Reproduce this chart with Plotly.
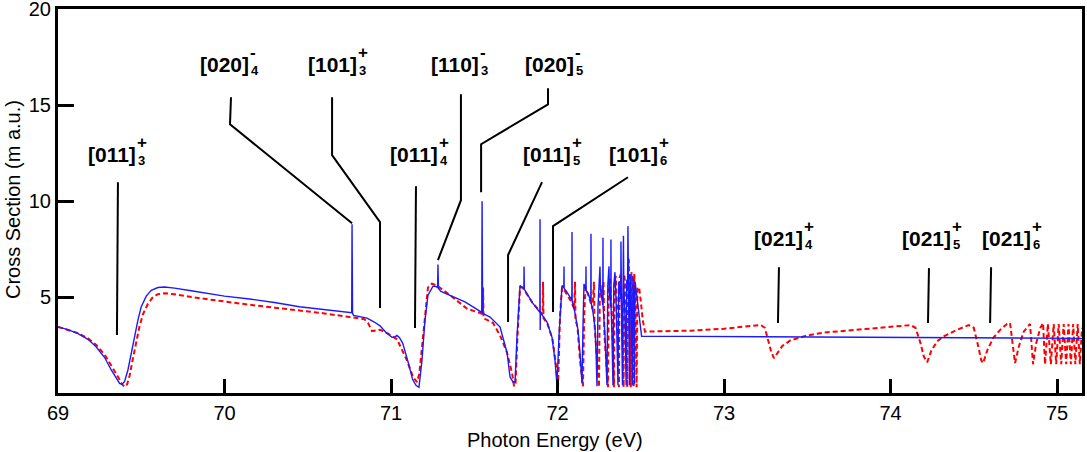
import plotly.graph_objects as go

# ---- data ----
blue_x = [69.00, 69.06, 69.12, 69.18, 69.23, 69.28, 69.32, 69.35, 69.37, 69.385, 69.40, 69.42, 69.44, 69.46,
          69.48, 69.50, 69.53, 69.56, 69.60, 69.64, 69.70, 69.80, 69.90, 70.00, 70.15, 70.30, 70.45, 70.60,
          70.70, 70.764, 70.766, 70.769, 70.775, 70.82, 70.856, 70.90, 70.934, 70.97, 71.006, 71.02, 71.036,
          71.05, 71.07, 71.10, 71.13, 71.15, 71.168, 71.186, 71.204, 71.222, 71.252, 71.270, 71.280, 71.282,
          71.285, 71.30, 71.354, 71.444, 71.50, 71.545, 71.547, 71.550, 71.595, 71.655, 71.697, 71.715,
          71.733, 71.745, 71.757, 71.775, 71.790, 71.798, 71.799, 71.801, 71.85, 71.894, 71.895, 71.896,
          71.897, 71.937, 71.967, 71.985, 71.997, 72.009, 72.027, 72.038, 72.039, 72.040, 72.057, 72.086,
          72.087, 72.088, 72.105, 72.123, 72.135, 72.147, 72.153, 72.159, 72.170, 72.171, 72.172, 72.183,
          72.200, 72.201, 72.202, 72.213, 72.225, 72.232, 72.237, 72.243, 72.250, 72.255, 72.258, 72.272,
          72.273, 72.274, 72.285, 72.297, 72.302, 72.309, 72.312, 72.320, 72.321, 72.322, 72.327, 72.333,
          72.338, 72.345, 72.352, 72.358, 72.363, 72.368, 72.375, 72.380, 72.381, 72.382, 72.386, 72.390,
          72.394, 72.396, 72.398, 72.405, 72.412, 72.416, 72.421, 72.423, 72.425, 72.432, 72.436, 72.442,
          72.449, 72.453, 72.458, 72.462, 72.466, 72.470, 72.480, 72.490, 72.497, 72.505, 72.80, 73.20,
          73.60, 74.00, 74.50, 75.15]
blue_y = [3.45, 3.3, 3.1, 2.8, 2.4, 1.85, 1.2, 0.75, 0.5, 0.45, 0.6, 1.2, 2.1, 3.0,
          3.8, 4.5, 5.05, 5.35, 5.5, 5.53, 5.47, 5.33, 5.18, 5.05, 4.9, 4.72, 4.5, 4.35,
          4.25, 4.18, 8.8, 4.15, 4.05, 3.98, 3.9, 3.7, 3.5, 3.15, 2.9, 2.9, 3.0,
          2.9, 2.6, 1.7, 0.7, 0.4, 0.3, 1.7, 3.8, 5.1, 5.57, 5.55, 5.5, 6.7,
          5.45, 5.3, 5.1, 4.75, 4.45, 4.2, 10.0, 4.15, 3.96, 3.44, 2.1, 0.83,
          0.57, 0.6, 3.0, 5.6, 5.5, 5.45, 6.6, 5.4, 4.7, 4.2, 9.06, 3.28,
          4.2, 3.7, 2.9, 1.7, 0.4, 3.0, 5.6, 5.5, 6.6, 5.45, 5.26, 4.84,
          8.4, 4.8, 4.17, 3.28, 2.1, 0.5, 3.5, 5.68, 5.4, 6.6, 5.35, 5.2,
          4.8, 8.3, 4.7, 4.2, 3.4, 2.0, 0.35, 4.5, 5.7, 6.6, 5.4, 4.6,
          8.1, 4.5, 3.0, 0.4, 5.6, 6.6, 5.2, 4.5, 8.0, 4.4, 3.0, 0.4,
          5.6, 6.3, 4.8, 3.0, 0.4, 5.8, 5.4, 4.9, 7.9, 4.7, 3.0, 0.4,
          5.8, 8.2, 5.6, 4.0, 0.4, 5.9, 5.6, 8.7, 5.3, 0.4, 6.2, 5.2,
          0.4, 6.1, 5.0, 0.45, 5.8, 5.5, 5.0, 4.2, 3.5, 2.95, 2.95, 2.93,
          2.92, 2.9, 2.88, 2.85]

red_x = [69.00, 69.06, 69.12, 69.18, 69.23, 69.28, 69.33, 69.36, 69.385, 69.40, 69.415, 69.43, 69.45, 69.47,
         69.49, 69.51, 69.54, 69.57, 69.60, 69.64, 69.70, 69.80, 69.90, 70.00, 70.15, 70.30, 70.45, 70.60,
         70.75, 70.80, 70.84, 70.862, 70.886, 70.934, 70.982, 71.036, 71.096, 71.132, 71.156, 71.17, 71.186,
         71.204, 71.222, 71.246, 71.276, 71.354, 71.456, 71.535, 71.552, 71.553, 71.556, 71.613, 71.655,
         71.697, 71.727, 71.739, 71.748, 71.76, 71.775, 71.79, 71.85, 71.90, 71.911, 71.913, 71.916, 71.94,
         71.97, 71.99, 72.003, 72.015, 72.027, 72.045, 72.08, 72.100, 72.105, 72.108, 72.120, 72.135,
         72.153, 72.160, 72.168, 72.185, 72.210, 72.219, 72.222, 72.235, 72.249, 72.254, 72.26, 72.27,
         72.276, 72.282, 72.303, 72.308, 72.315, 72.327, 72.339, 72.343, 72.350, 72.360, 72.369, 72.373,
         72.380, 72.390, 72.397, 72.401, 72.408, 72.414, 72.419, 72.423, 72.428, 72.434, 72.440, 72.444,
         72.450, 72.457, 72.461, 72.467, 72.475, 72.48, 72.49, 72.50, 72.512, 72.525, 72.80, 73.00, 73.15,
         73.22, 73.245, 73.265, 73.285, 73.30, 73.32, 73.35, 73.40, 73.50, 73.60, 73.80, 74.00, 74.12,
         74.15, 74.18, 74.20, 74.22, 74.245, 74.28, 74.32, 74.40, 74.47, 74.50, 74.525, 74.545, 74.556,
         74.58, 74.616, 74.66, 74.70, 74.718, 74.73, 74.748, 74.77, 74.80, 74.838, 74.846, 74.856, 74.875,
         74.90, 74.916, 74.922, 74.928, 74.945, 74.963, 74.98, 74.995, 75.01, 75.025, 75.04, 75.055,
         75.069, 75.083, 75.097, 75.11, 75.124, 75.137, 75.15]
red_y = [3.45, 3.3, 3.12, 2.85, 2.5, 2.0, 1.3, 0.85, 0.45, 0.32, 0.45, 0.9, 1.8, 2.7,
         3.5, 4.1, 4.65, 5.0, 5.15, 5.2, 5.15, 5.0, 4.88, 4.75, 4.6, 4.45, 4.3, 4.15,
         3.96, 3.92, 3.85, 3.65, 3.23, 3.3, 3.1, 2.8, 1.7, 0.83, 0.57, 1.0, 2.4,
         4.2, 5.5, 5.7, 5.6, 5.1, 4.4, 4.17, 4.1, 5.5, 3.9, 3.65, 3.0,
         2.1, 1.04, 0.35, 0.5, 3.0, 5.5, 5.5, 4.7, 4.2, 4.1, 5.8, 3.9, 3.6,
         2.8, 1.5, 0.3, 4.0, 5.5, 5.3, 4.8, 4.4, 5.8, 3.8, 3.44, 1.7,
         0.35, 4.0, 5.5, 5.1, 4.4, 5.8, 3.6, 2.0, 0.3, 5.0, 5.6, 5.2,
         5.8, 3.0, 0.3, 5.6, 6.0, 4.0, 0.3, 5.8, 6.1, 4.0, 0.3, 6.0,
         6.2, 3.5, 0.3, 6.2, 5.5, 3.0, 0.3, 6.4, 7.0, 3.5, 0.3, 6.3,
         5.5, 0.3, 6.2, 5.0, 0.3, 5.5, 5.5, 4.8, 3.8, 3.2, 3.25, 3.35, 3.5,
         3.55, 3.4, 2.8, 2.1, 1.82, 2.1, 2.45, 2.75, 3.0, 3.15, 3.3, 3.45, 3.54,
         3.4, 2.6, 1.9, 1.6, 2.2, 2.7, 2.95, 3.3, 3.54, 3.4, 2.5, 1.7, 1.56,
         2.2, 2.86, 3.3, 3.6, 3.65, 2.8, 1.56, 2.4, 3.2, 3.6, 2.6, 1.5, 2.6,
         3.4, 3.65, 2.6, 1.5, 3.6, 1.5, 3.6, 1.5, 3.6, 1.5, 3.6, 1.5,
         3.6, 1.5, 3.6, 1.5, 3.6, 1.5, 3.4]

# resonance labels: main text, superscript, subscript, anchor (right edge of bracket)
label_main = ["[011]", "[020]", "[101]", "[011]", "[110]", "[020]", "[011]", "[101]", "[021]", "[021]", "[021]"]
label_sup = ["+", "-", "+", "+", "-", "-", "+", "+", "+", "+", "+"]
label_sub = ["3", "4", "3", "4", "3", "5", "5", "6", "4", "5", "6"]
label_x = [69.462, 70.141, 70.790, 71.276, 71.523, 72.093, 72.075, 72.598, 73.468, 74.357, 74.838]
label_y = [12.45, 17.14, 17.14, 12.45, 17.14, 17.14, 12.45, 12.45, 8.07, 8.07, 8.07]

# leader lines (polylines from label down to the resonance)
leader_x = [[69.360, 69.354],
            [70.039, 70.033, 70.766],
            [70.646, 70.646, 70.934, 70.934],
            [71.150, 71.144],
            [71.420, 71.420, 71.282],
            [71.943, 71.943, 71.541, 71.541],
            [71.907, 71.703, 71.703],
            [72.423, 71.973, 71.973],
            [73.330, 73.324],
            [74.231, 74.225],
            [74.604, 74.598]]
leader_y = [[10.99, 3.02],
            [15.42, 14.01, 8.85],
            [15.42, 12.40, 8.91, 4.43],
            [10.78, 3.39],
            [15.57, 10.05, 6.93],
            [15.89, 15.05, 12.97, 10.47],
            [10.99, 7.19, 3.70],
            [11.25, 8.70, 4.22],
            [6.56, 3.65],
            [6.51, 3.65],
            [6.56, 3.65]]

x_ticks = [69, 70, 71, 72, 73, 74, 75]
y_ticks = [5, 10, 15, 20]

# ---- figure ----
fig = go.Figure()

lx, ly = [], []
for xs, ys in zip(leader_x, leader_y):
    lx += xs + [None]
    ly += ys + [None]
fig.add_trace(go.Scatter(x=lx, y=ly, mode="lines", line=dict(color="black", width=2),
                         hoverinfo="skip", showlegend=False))

fig.add_trace(go.Scatter(x=red_x, y=red_y, mode="lines",
                         line=dict(color="#ff0000", width=2, dash="5px,3px"), showlegend=False))
fig.add_trace(go.Scatter(x=blue_x, y=blue_y, mode="lines",
                         line=dict(color="#1a1aff", width=1.4), showlegend=False))

FONT = "Liberation Sans, Arial, sans-serif"
for m, sp, sb, x, y in zip(label_main, label_sup, label_sub, label_x, label_y):
    fig.add_annotation(x=x, y=y, xref="x", yref="y", text="<b>" + m + "</b>", showarrow=False,
                       xanchor="right", yanchor="middle", xshift=2, borderpad=0,
                       font=dict(family=FONT, size=21, color="black"))
    fig.add_annotation(x=x, y=y, xref="x", yref="y", text="<b>" + sp + "</b>", showarrow=False,
                       xanchor="left", yanchor="middle", xshift=1, yshift=12, borderpad=0,
                       font=dict(family=FONT, size=17, color="black"))
    fig.add_annotation(x=x, y=y, xref="x", yref="y", text="<b>" + sb + "</b>", showarrow=False,
                       xanchor="left", yanchor="middle", xshift=2, yshift=-6, borderpad=0,
                       font=dict(family=FONT, size=13, color="black"))

# axis titles placed as paper annotations
fig.add_annotation(x=-0.044, y=0.505, xref="paper", yref="paper", text="Cross Section (m a.u.)",
                   textangle=-90, showarrow=False, xanchor="center", yanchor="middle",
                   font=dict(family=FONT, size=20, color="black"))
fig.add_annotation(x=0.485, y=-0.122, xref="paper", yref="paper", text="Photon Energy (eV)",
                   showarrow=False, xanchor="center", yanchor="middle",
                   font=dict(family=FONT, size=20, color="black"))

fig.update_layout(
    width=1087, height=452,
    margin=dict(l=58, r=5, t=9, b=59),
    plot_bgcolor="white", paper_bgcolor="white",
    showlegend=False,
    font=dict(family=FONT, size=20, color="black"),
)
fig.update_xaxes(range=[69, 75.15], tickvals=x_ticks, ticktext=[str(v) for v in x_ticks],
                 ticks="inside", ticklen=14, tickwidth=3, tickcolor="black",
                 showline=True, linewidth=3, linecolor="black", mirror=True,
                 showgrid=False, zeroline=False, tickfont=dict(size=20), automargin=False,
                 ticklabeloverflow="allow")
fig.update_yaxes(range=[0, 20.02], tickvals=y_ticks, ticktext=[str(v) for v in y_ticks],
                 ticks="inside", ticklen=16, tickwidth=3, tickcolor="black",
                 showline=True, linewidth=3, linecolor="black", mirror=True,
                 showgrid=False, zeroline=False, tickfont=dict(size=20), automargin=False,
                 ticklabeloverflow="allow")

fig.write_html("out.html", config={"displayModeBar": False},
               post_script="document.body.style.margin='0px';document.body.style.overflow='hidden';")
